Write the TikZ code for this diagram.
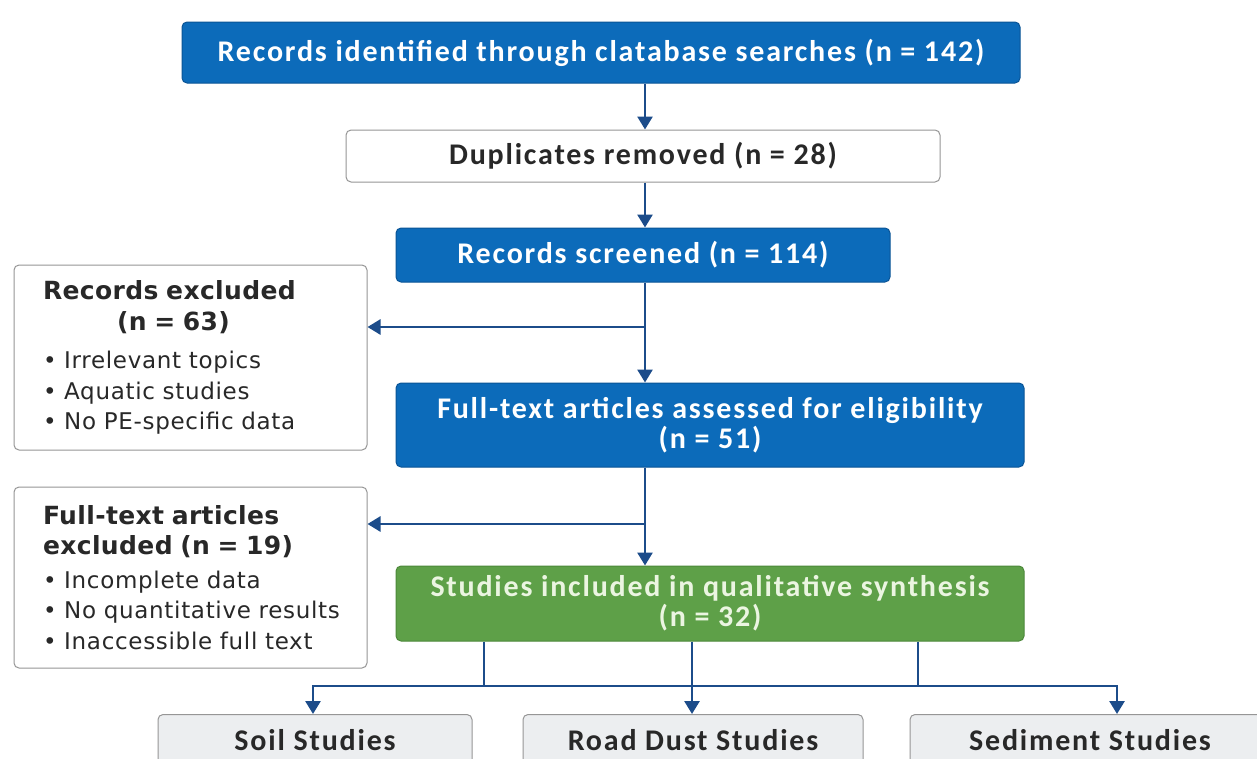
\documentclass[tikz,border=0pt]{standalone}
\usepackage{fontspec}
\setmainfont{Carlito}[LetterSpace=6]
\newfontfamily\djv{DejaVu Sans}[LetterSpace=3]
\newfontfamily\djvt{DejaVu Sans}[LetterSpace=1.5]
\usetikzlibrary{arrows.meta}
\definecolor{pblue}{RGB}{12,107,186}
\definecolor{pblueb}{RGB}{10,84,150}
\definecolor{pgreen}{RGB}{94,160,72}
\definecolor{pgreenb}{RGB}{76,136,58}
\definecolor{parrow}{RGB}{28,76,138}
\definecolor{pgrey}{RGB}{150,150,150}
\definecolor{plight}{RGB}{236,238,240}
\definecolor{ptext}{RGB}{40,40,40}
\tikzset{
  bluebox/.style={draw=pblueb, fill=pblue, line width=1pt, rounded corners=5pt, text=white,
    font=\fontsize{30}{30}\selectfont\bfseries, align=center, inner sep=0pt},
  greenbox/.style={bluebox, draw=pgreenb, fill=pgreen, text={rgb,255:red,235;green,245;blue,225}},
  whitebox/.style={draw=pgrey, fill=white, line width=1pt, rounded corners=5pt, text=ptext,
    font=\fontsize{30}{30}\selectfont\bfseries, align=center, inner sep=0pt},
  sidebox/.style={draw=pgrey, fill=white, line width=1pt, rounded corners=5pt, text=ptext,
    align=left, inner xsep=29pt, inner ysep=0pt, text width=295pt,
    font=\djv\fontsize{23}{30.5}\selectfont},
  greybox/.style={whitebox, fill=plight},
  conn/.style={draw=parrow, line width=2.7pt},
  arr/.style={conn, -{Triangle[width=15pt,length=13pt]}},
}
\newcommand{\ttl}[1]{{\djvt\fontsize{25}{30.5}\selectfont\bfseries #1}}
\begin{document}
\begin{tikzpicture}[x=1pt,y=-1pt]
\useasboundingbox[fill=white] (0,0) rectangle (1257,758);
% nodes
\node[bluebox, minimum width=838pt, minimum height=61pt] (top) at (601,52.5)
  {Records identified through clatabase searches (n = 142)};
\node[whitebox, minimum width=594pt, minimum height=52pt] (dup) at (643,156)
  {Duplicates removed (n = 28)};
\node[bluebox, minimum width=494pt, minimum height=54pt] (scr) at (643,255)
  {Records screened (n = 114)};
\node[bluebox, minimum width=628pt, minimum height=84pt] (fta) at (710,425)
  {Full-text articles assessed for eligibility\\(n = 51)};
\node[greenbox, minimum width=628pt, minimum height=75pt] (inc) at (710,603.5)
  {Studies included in qualitative synthesis\\(n = 32)};
\node[sidebox, minimum height=185pt] (rex) at (190.5,357.5)
  {\ttl{Records excluded}\\
   \hspace*{74pt}\ttl{(n = 63)}\\[8pt]
   • Irrelevant topics\\
   • Aquatic studies\\
   • No PE-specific data};
\node[sidebox, minimum height=181pt] (fex) at (190.5,577.5)
  {\ttl{Full-text articles}\\
   \ttl{excluded (n = 19)}\\[3pt]
   • Incomplete data\\
   • No quantitative results\\
   • Inaccessible full text};
\node[greybox, minimum width=314pt, minimum height=60pt, anchor=north] (soil) at (315,714)
  {\raisebox{10pt}{Soil Studies}};
\node[greybox, minimum width=340pt, minimum height=60pt, anchor=north] (road) at (693,714)
  {\raisebox{10pt}{Road Dust Studies}};
\node[greybox, minimum width=360pt, minimum height=60pt, anchor=north] (sed) at (1090,714)
  {\raisebox{10pt}{Sediment Studies}};
% coordinates
\coordinate (mx) at (645,0);
\coordinate (b1) at (0,327);
\coordinate (b2) at (0,524);
\coordinate (hb) at (0,686);
\coordinate (s1) at (484,0);
\coordinate (s2) at (692,0);
\coordinate (s3) at (918,0);
\coordinate (a1) at (313,0);
\coordinate (a3) at (1117,0);
% connectors
\draw[arr] (top.south -| mx) -- (dup.north -| mx);
\draw[arr] (dup.south -| mx) -- (scr.north -| mx);
\draw[arr] (scr.south -| mx) -- (fta.north -| mx);
\draw[arr] (b1 -| mx) -- (rex.east |- b1);
\draw[arr] (fta.south -| mx) -- (inc.north -| mx);
\draw[arr] (b2 -| mx) -- (fex.east |- b2);
\draw[conn] (inc.south -| s1) -- (hb -| s1);
\draw[conn] (inc.south -| s2) -- (hb -| s2);
\draw[conn] (inc.south -| s3) -- (hb -| s3);
\draw[conn, line cap=rect] (hb -| a1) -- (hb -| a3);
\draw[arr] (hb -| a1) -- (soil.north -| a1);
\draw[arr] (hb -| s2) -- (road.north -| s2);
\draw[arr] (hb -| a3) -- (sed.north -| a3);
\end{tikzpicture}
\end{document}
